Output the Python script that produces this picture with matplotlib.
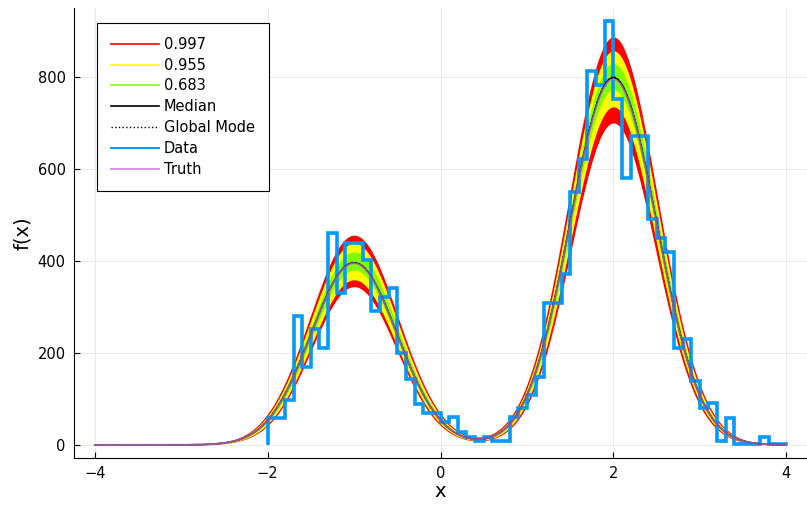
import numpy as np
from matplotlib import pyplot as plt

################################################################################
### Data
################################################################################
# histogram of the data, bins of width 0.1 from -2 to 4
bin_edges = np.linspace(-2.0, 4.0, 61)
counts = [59, 59, 98, 280, 170, 252, 211, 461, 330, 439,
          439, 402, 291, 322, 341, 200, 143, 89, 70, 70,
          50, 61, 28, 17, 9, 17, 9, 9, 61, 80,
          108, 148, 309, 309, 372, 550, 621, 813, 783, 922,
          752, 580, 672, 672, 491, 450, 420, 211, 230, 139,
          80, 91, 9, 59, 3, 3, 3, 17, 3, 3]

# two gaussian components: centre, width, peak heights
centres = [-1.0, 2.0]
median_width = 0.5
median_peaks = [396, 798]
mode_peaks = [397, 800]
truth_peaks = [395, 795]

# credible bands: lower / upper peak heights and widths for each level
band_levels = ['0.997', '0.955', '0.683']
band_colors = ['#ff0000', '#ffff00', '#7fff00']
band_lower = [[344, 700], [359, 735], [380, 772]]
band_upper = [[456, 887], [439, 857], [420, 830]]
band_width_lo = [0.488, 0.492, 0.496]
band_width_hi = [0.512, 0.508, 0.504]

x_ticks = [-4, -2, 0, 2, 4]
y_ticks = [0, 200, 400, 600, 800]


def mixture(x, peaks, s):
    y = np.zeros_like(x)
    for mu, a in zip(centres, peaks):
        y += a * np.exp(-0.5 * ((x - mu) / s) ** 2)
    return y


################################################################################
### Plot
################################################################################
plt.rcParams['font.family'] = 'DejaVu Sans'
fig = plt.figure(figsize=(8.07, 5.05), dpi=100)
ax = fig.add_axes([0.0917, 0.0937, 0.9083, 0.8903])

xs = np.linspace(-4, 4, 801)
for i in range(len(band_levels)):
    lo = mixture(xs, band_lower[i], band_width_lo[i])
    hi = mixture(xs, band_upper[i], band_width_hi[i])
    ax.fill_between(xs, lo, hi, color=band_colors[i], lw=0)
    ax.plot([], [], color=band_colors[i], lw=1.2, label=band_levels[i])

ax.plot(xs, mixture(xs, median_peaks, median_width), color='black', lw=1.2, label='Median')
ax.plot(xs, mixture(xs, mode_peaks, median_width), color='black', lw=1.0, ls=':', label='Global Mode')
ax.stairs(counts, bin_edges, baseline=0, color='#009afa', lw=2.6)
ax.plot([], [], color='#009afa', lw=1.4, label='Data')
ax.plot(xs, mixture(xs, truth_peaks, median_width), color='#c371d2', lw=1.4, alpha=0.75, label='Truth')

ax.set_xlim(-4.24, 4.24)
ax.set_ylim(-27.7, 949.7)
ax.set_xticks(x_ticks)
ax.set_yticks(y_ticks)
ax.set_xticklabels(['\u22124', '\u22122', '0', '2', '4'])
ax.tick_params(direction='in', length=4, width=0.8, labelsize=10.5, pad=6)
ax.grid(True, color='black', alpha=0.1, lw=0.6)
ax.set_axisbelow(True)
for side in ['top', 'right']:
    ax.spines[side].set_visible(False)
ax.set_xlabel('x', fontsize=14, labelpad=1)
ax.set_ylabel('f(x)', fontsize=14, labelpad=4)

leg = ax.legend(loc='upper left', bbox_to_anchor=(0.031, 0.967), borderaxespad=0,
                fontsize=10.5, handlelength=3.3, handletextpad=0.35, labelspacing=0.4,
                borderpad=0.95, fancybox=False, framealpha=1, edgecolor='black')
leg.get_frame().set_linewidth(0.8)

fig.savefig('out.png', dpi=100)
